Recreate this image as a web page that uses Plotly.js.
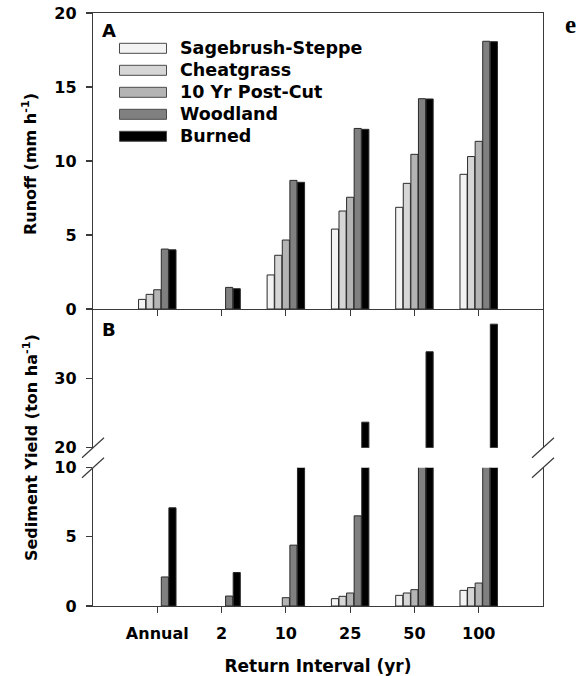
<!DOCTYPE html>
<html>
<head>
<meta charset="utf-8">
<script src="https://cdn.plot.ly/plotly-3.0.1.min.js"></script>
<style>html,body{margin:0;padding:0;background:#fff;}</style>
</head>
<body>
<div id="chart" style="width:584px;height:676px;"></div>
<script>
// ---- data ----
const categories = ['Annual', '2', '10', '25', '50', '100'];
const seriesNames = ['Sagebrush-Steppe', 'Cheatgrass', '10 Yr Post-Cut', 'Woodland', 'Burned'];

// Panel A: Runoff (mm h-1)
const runoffSagebrush = [0.65, 0, 2.3, 5.4, 6.87, 9.1];
const runoffCheatgrass = [0.99, 0, 3.63, 6.62, 8.49, 10.3];
const runoffPostCut = [1.3, 0, 4.66, 7.55, 10.45, 11.33];
const runoffWoodland = [4.05, 1.46, 8.69, 12.2, 14.21, 18.09];
const runoffBurned = [4.0, 1.37, 8.56, 12.14, 14.19, 18.06];

// Panel B: Sediment yield (ton ha-1)
const sedSagebrush = [0, 0, 0, 0.53, 0.77, 1.13];
const sedCheatgrass = [0, 0, 0, 0.7, 0.94, 1.33];
const sedPostCut = [0, 0, 0.6, 0.94, 1.18, 1.66];
const sedWoodland = [2.1, 0.72, 4.4, 6.52, 14, 17];
const sedBurned = [7.1, 2.42, 13, 23.7, 33.9, 37.9];

const runoffTicks = [0, 5, 10, 15, 20];
const sedUpperTicks = [20, 30];
const sedLowerTicks = [0, 5, 10];

// ---- styling ----
const fillColors = ['#f3f3f3', '#d6d6d6', '#b4b4b4', '#808080', '#000000'];
const outline = '#2a2a2a';
const axisColor = '#3a3a3a';
const FONT = 'DejaVu Sans';

const runoffSeries = [runoffSagebrush, runoffCheatgrass, runoffPostCut, runoffWoodland, runoffBurned];
const sedSeries = [sedSagebrush, sedCheatgrass, sedPostCut, sedWoodland, sedBurned];

// pixel -> paper helpers (plot area: x 93..543, y 13..606)
const W = 584, H = 676, ML = 93, MR = 41, MT = 13, MB = 70;
const PW = W - ML - MR, PH = H - MT - MB;
const px = x => (x - ML) / PW;
const py = y => (H - MB - y) / PH;

const outlineWidths = vals => vals.map(v => (v > 0 ? 1 : 0));

const traces = [];
seriesNames.forEach((name, i) => {
  const mk = vals => ({color: fillColors[i], line: {color: outline, width: outlineWidths(vals)}});
  const common = {type: 'bar', name: name, x: categories, showlegend: false, hoverinfo: 'skip'};
  traces.push(Object.assign({}, common, {y: runoffSeries[i], marker: mk(runoffSeries[i]), xaxis: 'x', yaxis: 'y'}));
  traces.push(Object.assign({}, common, {y: sedSeries[i], marker: mk(sedSeries[i]), xaxis: 'x2', yaxis: 'y2'}));
  traces.push(Object.assign({}, common, {y: sedSeries[i], marker: mk(sedSeries[i]), xaxis: 'x2', yaxis: 'y3'}));
});

const tickFont = {family: FONT, size: 16, color: '#000', weight: 'bold'};
const baseY = {
  showline: true, mirror: true, linecolor: axisColor, linewidth: 1.2,
  ticks: 'outside', ticklen: 6, tickcolor: axisColor, tickwidth: 1.2,
  showgrid: false, zeroline: false, tickfont: tickFont, ticklabelstandoff: 6,
  anchor: 'x2', fixedrange: true
};

const yBreakUpper = 447.7, yBreakLower = 467.7, ySplit = 309;

const shapes = [];
[yBreakUpper, yBreakLower].forEach(yy => {
  [0, 1].forEach(xx => {
    shapes.push({
      type: 'line', xref: 'paper', yref: 'paper',
      xsizemode: 'pixel', ysizemode: 'pixel', xanchor: xx, yanchor: py(yy),
      x0: -11, x1: 11, y0: -10, y1: 10,
      line: {color: axisColor, width: 1.2}
    });
  });
});

const annotations = [];
// custom legend with wide swatches
seriesNames.forEach((name, i) => {
  const yc = py(48.3 + 22 * i);
  shapes.push({
    type: 'rect', xref: 'paper', yref: 'paper',
    ysizemode: 'pixel', yanchor: yc, y0: -5, y1: 5,
    x0: px(119.5), x1: px(166.5),
    fillcolor: fillColors[i], line: {color: '#4a4a4a', width: 1}
  });
  annotations.push({
    xref: 'paper', yref: 'paper', x: px(178), y: yc,
    xanchor: 'left', yanchor: 'middle', showarrow: false,
    text: name, font: {family: FONT, size: 17.5, color: '#000', weight: 'bold'}
  });
});
annotations.push(
  {xref: 'paper', yref: 'paper', x: px(100), y: py(30), xanchor: 'left', yanchor: 'middle',
   showarrow: false, text: 'A', font: {family: FONT, size: 18, color: '#000', weight: 'bold'}},
  {xref: 'paper', yref: 'paper', x: px(100), y: py(329), xanchor: 'left', yanchor: 'middle',
   showarrow: false, text: 'B', font: {family: FONT, size: 18, color: '#000', weight: 'bold'}},
  {xref: 'paper', yref: 'paper', x: px(30), y: py(164), xanchor: 'center', yanchor: 'middle',
   textangle: -90, showarrow: false, text: 'Runoff (mm h<sup>-1</sup>)',
   font: {family: FONT, size: 16, color: '#000', weight: 'bold'}},
  {xref: 'paper', yref: 'paper', x: px(30), y: py(448), xanchor: 'center', yanchor: 'middle',
   textangle: -90, showarrow: false, text: 'Sediment Yield (ton ha<sup>-1</sup>)',
   font: {family: FONT, size: 16, color: '#000', weight: 'bold'}},
  {xref: 'paper', yref: 'paper', x: px(570.5), y: py(24), xanchor: 'center', yanchor: 'middle',
   showarrow: false, text: 'e', font: {family: 'Liberation Serif', size: 25, color: '#000', weight: 'bold'}}
);

const layout = {
  width: W, height: H,
  margin: {l: ML, r: MR, t: MT, b: MB, pad: 0},
  paper_bgcolor: '#ffffff', plot_bgcolor: '#ffffff',
  barmode: 'group', bargap: 0.41, bargroupgap: 0.06,
  showlegend: false,
  font: {family: FONT, size: 16, color: '#000', weight: 'bold'},
  xaxis: {
    domain: [0, 1], anchor: 'y', type: 'category', range: [-1, 6],
    showline: true, mirror: true, linecolor: axisColor, linewidth: 1.2,
    ticks: 'outside', ticklen: 6, tickcolor: axisColor, tickwidth: 1.2,
    showticklabels: false, showgrid: false, zeroline: false, fixedrange: true
  },
  yaxis: Object.assign({}, baseY, {
    domain: [py(ySplit), 1], anchor: 'x', range: [0, 20], tickvals: runoffTicks
  }),
  xaxis2: {
    domain: [0, 1], anchor: 'y3', type: 'category', range: [-1, 6],
    showline: true, linecolor: axisColor, linewidth: 1.2,
    ticks: 'outside', ticklen: 6, tickcolor: axisColor, tickwidth: 1.2,
    showgrid: false, zeroline: false, tickfont: tickFont, ticklabelstandoff: 7,
    fixedrange: true,
    title: {text: 'Return Interval (yr)', standoff: 18,
            font: {family: FONT, size: 17, color: '#000', weight: 'bold'}}
  },
  yaxis2: Object.assign({}, baseY, {
    domain: [py(yBreakUpper), py(ySplit)], range: [20, 40.1], tickvals: sedUpperTicks
  }),
  yaxis3: Object.assign({}, baseY, {
    domain: [0, py(yBreakLower)], range: [0, 10], tickvals: sedLowerTicks
  }),
  shapes: shapes,
  annotations: annotations
};

Plotly.newPlot('chart', traces, layout, {displayModeBar: false, staticPlot: true});
</script>
</body>
</html>
